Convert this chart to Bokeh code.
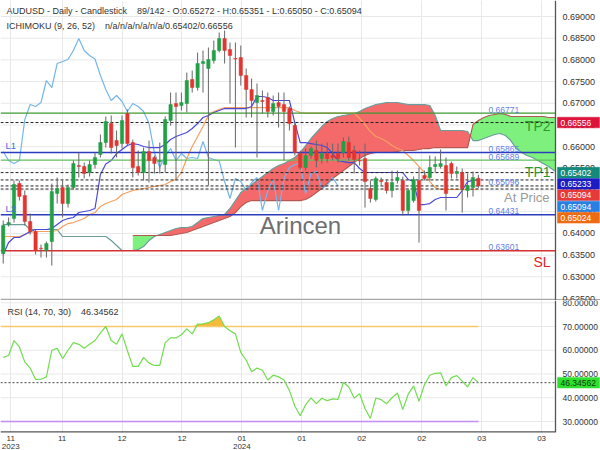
import numpy as np
from bokeh.plotting import figure
from bokeh.layouts import column
from bokeh.models import Range1d, FixedTicker, Span, Label
from bokeh.core.properties import value
from bokeh.embed import file_html
from bokeh.resources import INLINE

FONT = "Liberation Sans"

# ---------------- data ----------------
opens = [0.63537, 0.64205, 0.64343, 0.65150, 0.64874, 0.64274, 0.64044, 0.63660, 0.63606, 0.63813,
         0.64920, 0.65058, 0.64689, 0.65058, 0.65565, 0.65542, 0.65404, 0.65588, 0.65819, 0.66095,
         0.66533, 0.66141, 0.66072, 0.66764, 0.66095, 0.65542, 0.65404, 0.65888, 0.65750, 0.65657,
         0.65588, 0.66603, 0.66994, 0.66948, 0.66994, 0.67548, 0.67363, 0.67917, 0.67801, 0.67986,
         0.68216, 0.68493, 0.68239, 0.68032, 0.68055, 0.67640, 0.67317, 0.67018, 0.67064, 0.67133,
         0.66810, 0.67018, 0.66971, 0.66879, 0.66487, 0.65842, 0.65519, 0.65796, 0.65911, 0.65727,
         0.65842, 0.65796, 0.65842, 0.65865, 0.66095, 0.65911, 0.65680, 0.65727, 0.65035, 0.64782,
         0.65220, 0.65173, 0.64989, 0.65220, 0.65220, 0.64528, 0.64758, 0.65220, 0.65335, 0.65289,
         0.65542, 0.65542, 0.65565, 0.65611, 0.65381, 0.65404, 0.64989, 0.65058, 0.65272]
highs = [0.64297, 0.64367, 0.65220, 0.65220, 0.64989, 0.64459, 0.64090, 0.63744, 0.63813, 0.65150,
         0.65289, 0.65220, 0.65127, 0.65680, 0.65865, 0.65634, 0.65680, 0.65865, 0.66280, 0.66695,
         0.66718, 0.66372, 0.66718, 0.66856, 0.66164, 0.65911, 0.65980, 0.66141, 0.65796, 0.66095,
         0.66695, 0.67248, 0.67248, 0.67248, 0.67709, 0.67755, 0.68170, 0.68216, 0.68285, 0.68447,
         0.68631, 0.68677, 0.68401, 0.68401, 0.68331, 0.67801, 0.67571, 0.67456, 0.67294, 0.67248,
         0.67179, 0.67248, 0.67248, 0.66925, 0.66533, 0.65911, 0.65957, 0.66003, 0.66141, 0.66072,
         0.66095, 0.66072, 0.66072, 0.66210, 0.66234, 0.66026, 0.65911, 0.66072, 0.65220, 0.65312,
         0.65289, 0.65243, 0.65450, 0.65450, 0.65312, 0.65035, 0.65312, 0.65519, 0.65450, 0.65796,
         0.65773, 0.65934, 0.65750, 0.65657, 0.65542, 0.65496, 0.65381, 0.65427, 0.65351]
lows = [0.63306, 0.64159, 0.64251, 0.64758, 0.64182, 0.63975, 0.63514, 0.63444, 0.63444, 0.63260,
        0.64689, 0.64367, 0.64597, 0.65012, 0.65289, 0.65266, 0.65312, 0.65496, 0.65750, 0.65980,
        0.65842, 0.65750, 0.65957, 0.66026, 0.65289, 0.65335, 0.65220, 0.65173, 0.65381, 0.65381,
        0.65404, 0.66487, 0.65220, 0.66833, 0.66787, 0.67248, 0.67294, 0.67248, 0.65104, 0.67917,
        0.68170, 0.67917, 0.66994, 0.65980, 0.67409, 0.66672, 0.66672, 0.65750, 0.66764, 0.66672,
        0.66718, 0.66441, 0.65680, 0.66372, 0.65796, 0.65473, 0.65450, 0.65727, 0.65519, 0.65611,
        0.65634, 0.65680, 0.65634, 0.65750, 0.65680, 0.65381, 0.65565, 0.64597, 0.64712, 0.64735,
        0.65104, 0.64920, 0.64828, 0.65150, 0.64413, 0.64436, 0.64712, 0.63790, 0.65220, 0.65220,
        0.65404, 0.65496, 0.64528, 0.65266, 0.65266, 0.64482, 0.64828, 0.64851, 0.65050]
closes = [0.64182, 0.64251, 0.65127, 0.64851, 0.64274, 0.64044, 0.63606, 0.63645, 0.63767, 0.64966,
          0.65035, 0.64689, 0.65058, 0.65611, 0.65542, 0.65381, 0.65588, 0.65750, 0.66095, 0.66580,
          0.65980, 0.66026, 0.66603, 0.66072, 0.65519, 0.65404, 0.65888, 0.65680, 0.65611, 0.65680,
          0.66626, 0.66971, 0.66925, 0.67018, 0.67525, 0.67363, 0.67917, 0.67963, 0.68009, 0.68216,
          0.68493, 0.68216, 0.68101, 0.68020, 0.67640, 0.67317, 0.67064, 0.67179, 0.67041, 0.66810,
          0.66994, 0.66925, 0.66810, 0.66533, 0.65865, 0.65519, 0.65796, 0.65957, 0.65680, 0.65842,
          0.65727, 0.65750, 0.65727, 0.66118, 0.65750, 0.65704, 0.65670, 0.65196, 0.64805, 0.65266,
          0.65196, 0.64989, 0.65173, 0.65289, 0.64528, 0.64989, 0.65243, 0.64528, 0.65266, 0.65519,
          0.65588, 0.65611, 0.64920, 0.65381, 0.65427, 0.65035, 0.65104, 0.65289, 0.65094]

tenkan = [0.63514, 0.63790, 0.63906, 0.63906, 0.63975, 0.64044, 0.64090, 0.64090, 0.64090, 0.64113,
          0.64205, 0.64297, 0.64343, 0.64367, 0.64482, 0.64505, 0.64528, 0.64574, 0.65358, 0.65600,
          0.65680, 0.65842, 0.65934, 0.66026, 0.66072, 0.66049, 0.66003, 0.65980, 0.65980, 0.65980,
          0.66049, 0.66164, 0.66234, 0.66280, 0.66326, 0.66418, 0.66533, 0.66672, 0.66718, 0.66787,
          0.66833, 0.66879, 0.66879, 0.66879, 0.66879, 0.66879, 0.66925, 0.67156, 0.67156, 0.67133,
          0.67064, 0.67064, 0.67064, 0.67064, 0.66556, 0.66095, 0.66095, 0.66072, 0.66049, 0.66026,
          0.65980, 0.65842, 0.65680, 0.65657, 0.65634, 0.65634, 0.65496, 0.65404, 0.65404, 0.65404,
          0.65404, 0.65404, 0.65404, 0.65404, 0.65404, 0.65243, 0.65196, 0.64666, 0.64666, 0.64689,
          0.64782, 0.64828, 0.64828, 0.64828, 0.64828, 0.64989, 0.65196, 0.65220, 0.65233]
kijun = [0.63929, 0.63929, 0.63929, 0.63929, 0.63975, 0.64021, 0.64044, 0.64044, 0.64044, 0.64044,
         0.64067, 0.64159, 0.64228, 0.64251, 0.64297, 0.64343, 0.64436, 0.64482, 0.64620, 0.64689,
         0.64735, 0.64782, 0.64897, 0.64943, 0.64989, 0.65012, 0.65035, 0.65058, 0.65081, 0.65104,
         0.65127, 0.65196, 0.65243, 0.65404, 0.65727, 0.66003, 0.66234, 0.66464, 0.66718, 0.66810,
         0.66856, 0.66902, 0.66902, 0.66902, 0.66902, 0.66902, 0.66902, 0.66902, 0.66902, 0.66902,
         0.66902, 0.66902, 0.66902, 0.66902, 0.66833, 0.66787, 0.66775, 0.66775, 0.66775, 0.66775,
         0.66775, 0.66775, 0.66775, 0.66775, 0.66775, 0.66775, 0.66649, 0.66510, 0.66349, 0.66234,
         0.66188, 0.66118, 0.66026, 0.65957, 0.65911, 0.65796, 0.65680, 0.65542, 0.65404, 0.65196,
         0.65058, 0.65012, 0.65012, 0.65012, 0.65012, 0.65012, 0.65012, 0.65012, 0.65024]
# senkou span B from bar 0, senkou span A from bar 24 (both run past the last candle)
span_b = [0.64205, 0.64205, 0.64205, 0.64205, 0.64205, 0.64090, 0.64090, 0.64090, 0.64090, 0.64090,
          0.64090, 0.63929, 0.63929, 0.63929, 0.63929, 0.63929, 0.63929, 0.63929, 0.63929, 0.63929,
          0.63836, 0.63721, 0.63606, 0.63606, 0.63606, 0.63629, 0.63698, 0.63836, 0.63929, 0.63975,
          0.64021, 0.64067, 0.64113, 0.64136, 0.64136, 0.64159, 0.64251, 0.64343, 0.64367, 0.64390,
          0.64413, 0.64436, 0.64574, 0.64758, 0.64943, 0.65035, 0.65127, 0.65220, 0.65312, 0.65404,
          0.65496, 0.65565, 0.65611, 0.65680, 0.65750, 0.65865, 0.66026, 0.66188, 0.66326, 0.66464,
          0.66580, 0.66649, 0.66695, 0.66718, 0.66741, 0.66764, 0.66810, 0.66879, 0.66925, 0.66971,
          0.66994, 0.67018, 0.67018, 0.67018, 0.66994, 0.66971, 0.66971, 0.66971, 0.66971, 0.66948,
          0.66718, 0.66372, 0.66372, 0.66372, 0.66372, 0.66372, 0.66349, 0.66141, 0.66141, 0.66188,
          0.66234, 0.66280, 0.66303, 0.66257, 0.66141, 0.65957, 0.65865, 0.65796, 0.65750, 0.65680,
          0.65611, 0.65542, 0.65450, 0.65404]
span_a_start = 24
span_a = [0.63952, 0.63952, 0.63952, 0.63952, 0.63952, 0.63952, 0.63952, 0.63952, 0.63975, 0.63998,
          0.64021, 0.64067, 0.64113, 0.64159, 0.64205, 0.64251, 0.64297, 0.64343, 0.64390, 0.64482,
          0.64620, 0.64712, 0.64758, 0.64758, 0.64758, 0.64758, 0.64758, 0.64758, 0.64758, 0.64758,
          0.64758, 0.64758, 0.64782, 0.64851, 0.64943, 0.65035, 0.65150, 0.65266, 0.65358, 0.65450,
          0.65542, 0.65634, 0.65727, 0.65796, 0.65842, 0.65865, 0.65865, 0.65865, 0.65865, 0.65888,
          0.65911, 0.65911, 0.65911, 0.65934, 0.65957, 0.65957, 0.65980, 0.65980, 0.65980, 0.65980,
          0.65980, 0.65980, 0.65980, 0.66510, 0.66603, 0.66672, 0.66718, 0.66741, 0.66764, 0.66741,
          0.66695, 0.66695, 0.66695, 0.66695, 0.66695, 0.66695, 0.66695, 0.66672, 0.66672, 0.66672]

rsi = [57.0, 57.8, 64.1, 61.4, 55.0, 52.5, 47.7, 47.8, 48.8, 60.0,
       60.8, 56.5, 60.0, 63.2, 62.5, 60.8, 62.5, 64.1, 67.3, 70.0,
       64.1, 62.5, 66.9, 59.8, 53.2, 53.2, 57.0, 54.6, 53.6, 53.6,
       63.2, 65.2, 65.2, 66.5, 69.0, 66.9, 71.0, 71.1, 71.6, 72.8,
       74.4, 70.0, 68.2, 66.9, 59.1, 55.8, 51.0, 52.5, 51.6, 47.5,
       49.5, 48.8, 47.5, 43.0, 36.5, 32.4, 37.0, 39.9, 37.5, 39.8,
       38.8, 39.5, 39.3, 46.4, 44.5, 39.9, 41.7, 35.5, 31.3, 39.9,
       39.2, 37.5, 40.0, 42.0, 35.0, 41.5, 45.0, 38.5, 45.5, 49.5,
       50.3, 50.5, 45.0, 48.5, 49.3, 47.0, 44.5, 48.5, 46.34562]

tick_pos = [1.4, 10.9, 22.0, 33.1, 44.2, 55.3, 66.4, 77.5, 88.6, 99.7]
tick_labels = ["11\n2023", "11", "12", "12", "01\n2024", "01", "02", "02", "03", "03"]
price_ticks = [0.625, 0.630, 0.635, 0.640, 0.645, 0.650, 0.655, 0.660, 0.665, 0.670, 0.675,
               0.680, 0.685, 0.690]
rsi_ticks = [30, 40, 50, 60, 70, 80]

level_vals = [0.66771, 0.65865, 0.65689, 0.64431, 0.63601]
level_names = ["TP2", "L1", "TP1", "L2", "SL"]
at_price_val = 0.65096
dash_vals = [0.66556, 0.65402, 0.65233, 0.65094, 0.65024]
box_vals = [0.66556, 0.65402, 0.65233, 0.65094, 0.65094, 0.65024]
rsi_last = 46.34562
NB = "\u00a0"
header1 = ("AUDUSD - Daily - Candlestick" + NB * 4 +
           "89/142 - O:0.65272 - H:0.65351 - L:0.65050 - C:0.65094")
header2 = "ICHIMOKU (9, 26, 52)" + NB * 4 + "n/a/n/a/n/a/n/a/0.65402/0.66556"
rsi_header = "RSI (14, 70, 30)" + NB * 4 + "46.34562"

# ---------------- geometry / style ----------------
CANVAS_W, PLOT_W, MAIN_H, RSI_FH = 600, 555, 300, 132
BAR_PX = 5.4
X0 = -0.5
X1 = X0 + PLOT_W / BAR_PX          # right edge of the plotting area (axis line)
XE = X0 + CANVAS_W / BAR_PX        # right edge of the canvas
Y_TOP, Y_BOT = 0.69369, 0.62454
R_TOP, R_BOT = 80.95, 25.37
PPX = (Y_TOP - Y_BOT) / MAIN_H
RPX = (R_TOP - R_BOT) / RSI_FH
BOX_X0, BOX_W, BOX_H = 557, 42, 10.6


def xat(px):
    return X0 + px / BAR_PX


def yat(py):
    return Y_TOP - py * PPX


def ryat(py):
    return R_TOP - (py - MAIN_H) * RPX


GRID = "#e8e8e8"
AXIS = "#555555"
TXT = "#333333"
UP, DOWN = "#23a047", "#e3342f"

n = len(closes)
idx = np.arange(n)
o = np.array(opens); c = np.array(closes); h = np.array(highs); l = np.array(lows)


def lab(fig, x, y, text, size, color, align="left", baseline="middle", **kw):
    fig.add_layout(Label(x=x, y=y, text=text, text_font=FONT, text_font_size=size,
                         text_color=color, text_align=align, text_baseline=baseline, **kw))


def base_fig(yr, fh, xaxis):
    f = figure(frame_width=CANVAS_W, frame_height=fh, x_range=Range1d(X0, XE), y_range=yr,
               output_backend="svg", toolbar_location=None,
               x_axis_location="below" if xaxis else None, y_axis_location=None,
               min_border_left=0, min_border_right=0, min_border_top=0, min_border_bottom=0)
    f.outline_line_color = None
    f.ygrid.visible = False
    f.xgrid.ticker = FixedTicker(ticks=tick_pos)
    f.xgrid.grid_line_color = GRID
    return f


def value_boxes(fig, ys, texts, fills, text_color, unit):
    fig.rect(x=[xat(BOX_X0 + BOX_W / 2)] * len(ys), y=ys, width=BOX_W / BAR_PX,
             height=BOX_H * unit, fill_color=fills, line_color=fills, line_width=0.5)
    fig.text(x=[xat(BOX_X0 + 3)] * len(ys), y=ys, text=texts, text_font=value(FONT),
             text_font_size=value("8.5px"), text_color=text_color, text_baseline="middle",
             text_align="left")


# ---------------- main panel ----------------
p = base_fig(Range1d(Y_BOT, Y_TOP), MAIN_H, False)
p.segment(x0=X0, y0=price_ticks, x1=X1, y1=price_ticks, line_color=GRID, line_width=1)

# cloud
A = np.array(span_a)
B = np.array(span_b)
ia = np.arange(span_a_start, span_a_start + len(A))
Bc = B[span_a_start:span_a_start + len(A)]
xs, a2, b2 = [], [], []
for k in range(len(A)):
    xs.append(float(ia[k])); a2.append(A[k]); b2.append(Bc[k])
    if k < len(A) - 1:
        d0 = A[k] - Bc[k]
        d1 = A[k + 1] - Bc[k + 1]
        if d0 * d1 < 0:
            t = d0 / (d0 - d1)
            yc = A[k] + t * (A[k + 1] - A[k])
            xs.append(ia[k] + t); a2.append(yc); b2.append(yc)
xs = np.array(xs); a2 = np.array(a2); b2 = np.array(b2)
keep = xs <= X1
xs_c = np.append(xs[keep], X1)
a2_c = np.append(a2[keep], np.interp(X1, xs, a2))
b2_c = np.append(b2[keep], np.interp(X1, xs, b2))
top = np.maximum(a2_c, b2_c)
p.varea(x=xs_c, y1=b2_c, y2=top, fill_color="#7df07d", fill_alpha=1.0)
p.varea(x=xs_c, y1=a2_c, y2=top, fill_color="#f46a6a", fill_alpha=1.0)
ib = np.arange(len(B)).astype(float)
kb = ib <= X1
p.line(np.append(ib[kb], X1), np.append(B[kb], np.interp(X1, ib, B)),
       line_color="#6a9e9c", line_width=1.2)
p.line(xs_c, a2_c, line_color="#b25a52", line_width=1.2)

# ichimoku lines
p.line(idx[:n - 26], c[26:], line_color="#74b6ea", line_width=1.2)
p.line(idx, kijun, line_color="#f5a05e", line_width=1.2)
p.line(idx, tenkan, line_color="#4a4ad8", line_width=1.2)

# level lines
level_colors = ["#3f9a35", "#2c3cbf", "#63bd5d", "#2c3cbf", "#d53030"]
p.segment(x0=X0, y0=level_vals, x1=X1, y1=level_vals, line_color=level_colors, line_width=1.3)
p.segment(x0=X0, y0=dash_vals, x1=X1, y1=dash_vals, line_color="#222222", line_width=1,
          line_dash="3 2")

# candles
cols = [UP if cc >= oo else DOWN for oo, cc in zip(opens, closes)]
p.segment(idx, h, idx, l, line_color="#666666", line_width=1)
p.vbar(x=idx, width=0.62, top=np.maximum(o, c), bottom=np.minimum(o, c),
       fill_color=cols, line_color=cols, line_width=0.5)

# right axis: line + labels
p.segment(x0=[X1], y0=[Y_BOT], x1=[X1], y1=[Y_TOP], line_color=AXIS, line_width=1.3)
p.text(x=[X1 + 7 / BAR_PX] * len(price_ticks), y=price_ticks,
       text=[f"{t:.5f}" for t in price_ticks], text_font=value(FONT),
       text_font_size=value("9px"), text_color=TXT, text_baseline="middle", text_align="left")

# price boxes on the right axis (stacked so they do not overlap)
box_colors = ["#dc143c", "#138a7c", "#1c1cc4", "#e63a3a", "#2a7fe3", "#ef6b12"]
box_y = []
for v in box_vals:
    y = v
    if box_y and box_y[-1] - y < 11.3 * PPX:
        y = box_y[-1] - 11.3 * PPX
    box_y.append(y)
value_boxes(p, box_y, [f"{v:.5f}" for v in box_vals], box_colors, "white", PPX)

# level value texts (just above their line)
for v in level_vals + [at_price_val]:
    lab(p, xat(488), v + 3.5 * PPX, f"{v:.5f}", "8.5px", "#5f82e6")

# level names
name_style = {"TP2": ("#2e9a2e", 550, "right", -12.7), "TP1": ("#2e9a2e", 550, "right", -11.5),
              "SL": ("#e02424", 550, "right", -11.5), "L1": ("#4a6ad8", 5, "left", 7),
              "L2": ("#4a6ad8", 5, "left", 6.5)}
for v, nm in zip(level_vals, level_names):
    col, px, al, dy = name_style[nm]
    size = "14px" if nm in ("TP2", "TP1", "SL") else "9.5px"
    lab(p, xat(px), v + dy * PPX, nm, size, col, align=al)
lab(p, xat(549), yat(197), "At Price", "13px", "#9a9a9a", align="right")
lab(p, xat(300), yat(225), "Arincen", "24px", "#6e6e6e", align="center")

# headers
lab(p, xat(6), yat(10), header1, "9px", TXT)
lab(p, xat(6), yat(25), header2, "9px", TXT)

# separator line between the panels
p.add_layout(Span(location=Y_BOT, dimension="width", line_color=AXIS, line_width=2))

# ---------------- RSI panel ----------------
r = base_fig(Range1d(R_BOT, R_TOP), RSI_FH, True)
r.segment(x0=X0, y0=rsi_ticks, x1=X1, y1=rsi_ticks, line_color=GRID, line_width=1)
rx = r.xaxis[0]
rx.ticker = FixedTicker(ticks=tick_pos)
rx.major_label_overrides = {tp: tl for tp, tl in zip(tick_pos, tick_labels)}
rx.major_label_text_font = FONT
rx.major_label_text_font_size = "8px"
rx.major_label_text_color = TXT
rx.major_label_text_line_height = 0.95
rx.major_label_standoff = 1
rx.major_tick_out = 0
rx.major_tick_in = 0
rx.minor_tick_out = 0
rx.minor_tick_in = 0
rx.axis_line_color = None

rs = np.array(rsi)
r.varea(x=idx, y1=np.full(n, 70.0), y2=np.maximum(rs, 70.0), fill_color="#f5b531", fill_alpha=0.95)
r.segment(x0=[X0], y0=[70], x1=[n - 1], y1=[70], line_color="#f7c968", line_width=1.3)
r.segment(x0=[X0], y0=[30], x1=[n - 1], y1=[30], line_color="#c28df2", line_width=1.3)
r.segment(x0=[X0], y0=[rsi_last], x1=[X1], y1=[rsi_last], line_color="#444444", line_width=1,
          line_dash="2 2")
r.line(idx, rs, line_color="#72dd50", line_width=1.2)

r.segment(x0=[X1], y0=[R_BOT], x1=[X1], y1=[R_TOP], line_color=AXIS, line_width=1.3)
r.segment(x0=[X0], y0=[R_BOT], x1=[X1], y1=[R_BOT], line_color=AXIS, line_width=2.5)
r.text(x=[X1 + 7 / BAR_PX] * len(rsi_ticks), y=rsi_ticks,
       text=[f"{t:.5f}" for t in rsi_ticks], text_font=value(FONT),
       text_font_size=value("8.5px"), text_color=TXT, text_baseline="middle", text_align="left")
value_boxes(r, [rsi_last], [f"{rsi_last:.5f}"], ["#2fe02f"], "#0d3d0d", RPX)

lab(r, xat(7), ryat(311), rsi_header, "9px", TXT)

layout = column(p, r, spacing=0)
open("out.html", "w").write(file_html(layout, INLINE))
